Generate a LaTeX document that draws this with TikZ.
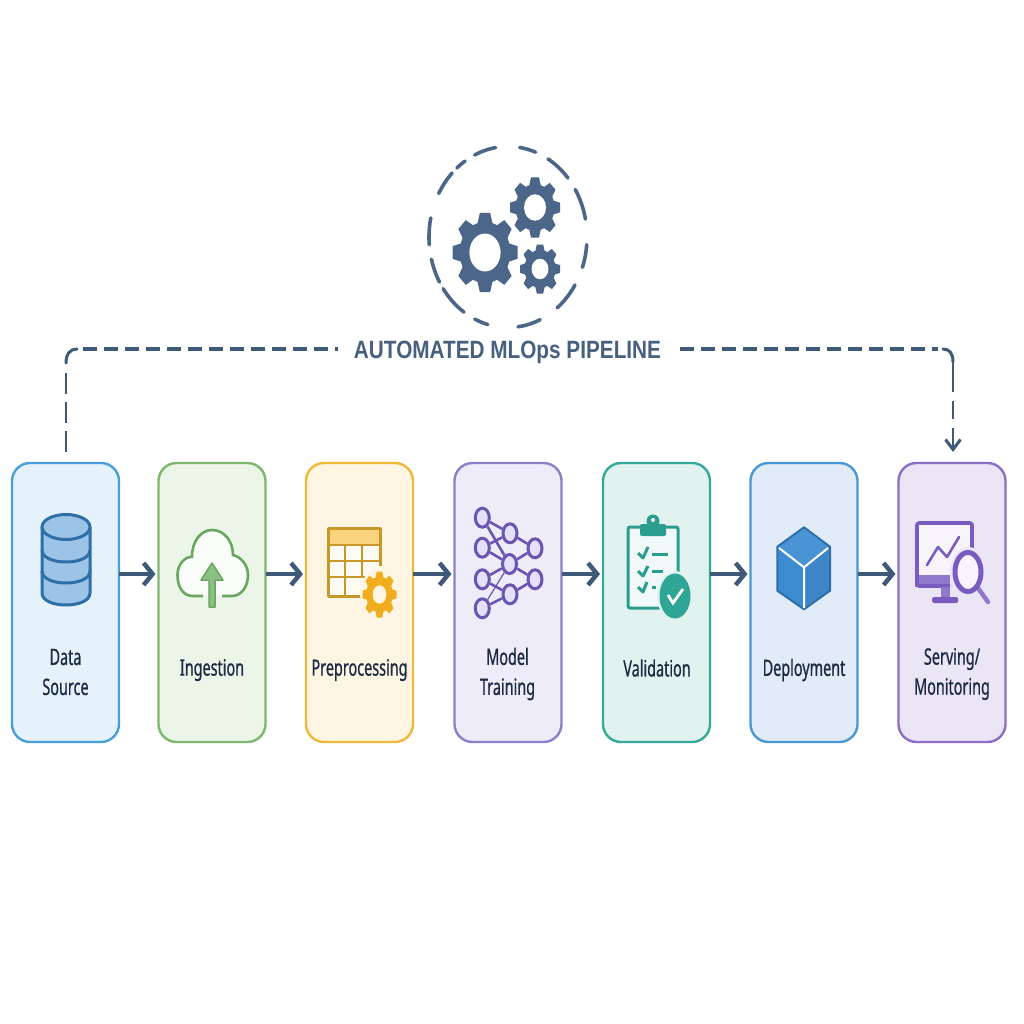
\documentclass[tikz,border=0pt]{standalone}
\usepackage{fontspec}
\setmainfont[FakeStretch=0.64,FakeBold=0.7]{Noto Sans}
\newfontfamily\titlefont[FakeStretch=0.83]{Liberation Sans}
\usetikzlibrary{arrows.meta,shapes.geometric,calc}
\definecolor{ink}{HTML}{1C2A44}
\definecolor{slate}{HTML}{4B6688}
\definecolor{titlec}{HTML}{47607F}
\definecolor{arrowc}{HTML}{3F5A78}
\definecolor{netc}{HTML}{6A56B0}
\definecolor{netf}{HTML}{E4E0F7}
\definecolor{teal1}{HTML}{2A9D8F}
\definecolor{teal2}{HTML}{2FA596}
\definecolor{amber1}{HTML}{C9962A}
\definecolor{amber2}{HTML}{F9D27D}
\definecolor{amber3}{HTML}{F0AD1E}
\definecolor{violet1}{HTML}{7A5CC0}
\definecolor{violet2}{HTML}{9078CC}
\definecolor{green1}{HTML}{6AA75E}
\definecolor{green2}{HTML}{8CC084}
\definecolor{blue1}{HTML}{2F6FA8}
\definecolor{blue2}{HTML}{9CC3E8}
\definecolor{cubeT}{HTML}{4A94D6}
\definecolor{cubeL}{HTML}{3D8BD0}
\definecolor{cubeR}{HTML}{3F86C9}
\definecolor{bgBlue}{HTML}{E6F2FB}\definecolor{edBlue}{HTML}{4A9FD8}
\definecolor{bgGreen}{HTML}{EBF5E8}\definecolor{edGreen}{HTML}{7FB76F}
\definecolor{bgAmber}{HTML}{FEF6E3}\definecolor{edAmber}{HTML}{F0B93A}
\definecolor{bgLilac}{HTML}{EEECF9}\definecolor{edLilac}{HTML}{8F7FCB}
\definecolor{bgTeal}{HTML}{E2F3EF}\definecolor{edTeal}{HTML}{35A99A}
\definecolor{bgSky}{HTML}{E1ECF8}\definecolor{edSky}{HTML}{4A97D3}
\definecolor{bgViolet}{HTML}{EBE6F6}\definecolor{edViolet}{HTML}{8A6FC4}
\tikzset{
  stage/.style 2 args={rectangle,draw=#1,fill=#2,line width=2.4pt,rounded corners=18pt,minimum width=107pt,minimum height=279pt,inner sep=0pt,outer sep=0pt},
  steplabel/.style={text=ink,font=\fontsize{22.5}{30}\selectfont,align=center,inner sep=0pt},
  flow/.style={draw=arrowc,line width=4.5pt,-{Straight Barb[length=9pt,width=22pt,line width=4.5pt]},shorten >=3pt},
  dashlink/.style={draw=arrowc,line width=3.8pt,dash pattern=on 14pt off 7pt},
  longdash/.style={draw=arrowc,line width=2.8pt,dash pattern=on 21pt off 8pt},
  solidlink/.style={draw=arrowc,line width=3pt},
  neuron/.style={ellipse,draw=netc,fill=netf,line width=3pt,minimum width=14pt,minimum height=19pt,inner sep=0pt},
  syn/.style={draw=netc,line width=2.6pt},
}
\newcommand{\gearicon}[7]{%
  \begin{scope}[shift={(#1,#2)},xscale=#3,yscale=#4]
    \foreach \a in {0,45,...,315}{
      \fill[#6,rotate=\a] (-0.24,0.7) -- (-0.16,1) -- (0.16,1) -- (0.24,0.7) -- cycle;
    }
    \fill[#6] (0,0) circle (0.78);
    \fill[#7] (0,0) circle (#5);
  \end{scope}%
}
\newcommand{\ringdash}[2]{%
  \draw[slate,line width=3.6pt,line cap=round,domain=#1:#2,samples=12,variable=\t,smooth]
    plot ({508+79*cos(\t)},{237+90.5*sin(\t)});%
}
\begin{document}
\begin{tikzpicture}[x=1pt,y=-1pt]
\useasboundingbox (0,0) rectangle (1024,1024);
\fill[white] (0,0) rectangle (1024,1024);

% stages
\node[stage={edBlue}{bgBlue}] (ds) at (65.5,602.5) {};
\node[stage={edGreen}{bgGreen}] (ing) at (212,602.5) {};
\node[stage={edAmber}{bgAmber}] (pre) at (359.5,602.5) {};
\node[stage={edLilac}{bgLilac}] (mt) at (508,602.5) {};
\node[stage={edTeal}{bgTeal}] (val) at (656.5,602.5) {};
\node[stage={edSky}{bgSky}] (dep) at (804,602.5) {};
\node[stage={edViolet}{bgViolet}] (srv) at (952,602.5) {};

% labels
\node[steplabel] (l1) at (65.5,672) {Data\\Source};
\node[steplabel] (l2) at (212,670) {Ingestion};
\node[steplabel] (l3) at (359.5,670) {Preprocessing};
\node[steplabel] (l4) at (507.5,674) {Model\\Training};
\node[steplabel] (l5) at (657,668) {Validation};
\node[steplabel] (l6) at (804,670) {Deployment};
\node[steplabel] (l7) at (952,674) {Serving/\\Monitoring};

% flow arrows
\foreach \u/\v in {ds/ing,ing/pre,pre/mt,mt/val,val/dep,dep/srv}{
  \draw[flow] ([yshift=28.5pt]\u.east) -- ([yshift=28.5pt]\v.west);
}

% title and automation link
\node[text=titlec,font=\titlefont\bfseries\fontsize{25}{30}\selectfont,inner sep=0pt] (title) at (507.5,352) {AUTOMATED MLOps PIPELINE};
\coordinate (cl) at (66,349);
\coordinate (cr) at (953,349);
\draw[longdash] ([yshift=11.5pt]ds.north -| cl) -- ([yshift=-23pt]cl);
\draw[solidlink,line cap=round] ([yshift=-14pt]cl) .. controls ([yshift=-5pt]cl) and ([xshift=4pt]cl) .. ([xshift=11pt]cl);
\coordinate (tl) at (338,349);
\coordinate (tr) at (680,349);
\draw[dashlink] ([xshift=17pt]cl) -- (tl);
\draw[dashlink] (tr) -- ([xshift=-15pt]cr);
\draw[solidlink,line cap=round] ([xshift=-10pt]cr) .. controls ([xshift=-4pt]cr) and ([yshift=-4pt]cr) .. ([yshift=-13pt]cr);
\draw[draw=arrowc,line width=2.8pt,dash pattern=on 29pt off 9pt on 18pt off 9pt on 40pt,-{Straight Barb[length=10pt,width=15pt,line width=3pt]}] ([yshift=-14pt]cr) -- ([yshift=11pt]srv.north -| cr);

% ring of dashes
\ringdash{-115}{-99}\ringdash{-81.5}{-69.5}\ringdash{-59.6}{-40.6}\ringdash{-31.7}{-11.4}
\ringdash{4.9}{19.6}\ringdash{32}{51.6}\ringdash{65.9}{82.7}\ringdash{104.8}{114.9}
\ringdash{123.8}{145.2}\ringdash{150.1}{165.8}\ringdash{175.1}{192.2}\ringdash{208.7}{225}\ringdash{229.6}{237.1}

% gears
\gearicon{485}{252.5}{32.5}{39.5}{0.48}{slate}{white}
\gearicon{535}{207.5}{25}{30}{0.44}{slate}{white}
\gearicon{540}{269}{20}{24.5}{0.42}{slate}{white}

% database
\draw[blue1,line width=3pt,fill=blue2] (42,527) -- (42,593) .. controls (42,609) and (90,609) .. (90,593) -- (90,527);
\draw[blue1,line width=3pt,fill=blue2] (66,527) ellipse (24 and 12.5);
\draw[blue1,line width=3pt] (42,550) .. controls (42,566) and (90,566) .. (90,550);
\draw[blue1,line width=3pt] (42,571) .. controls (42,587) and (90,587) .. (90,571);

% cloud upload
\fill[white,opacity=0.75]
  (193,596) .. controls (183,596) and (177.5,587) .. (177.5,575)
  .. controls (177.5,565) and (184,557) .. (192,556.7)
  .. controls (192,541) and (201,530) .. (212,530)
  .. controls (224,530) and (233,541) .. (233,555)
  .. controls (241,557) and (248,565) .. (248,575)
  .. controls (248,587) and (241,596) .. (232,596) -- cycle;
\draw[green1,line width=2.6pt]
  (203,596) -- (193,596) .. controls (183,596) and (177.5,587) .. (177.5,575)
  .. controls (177.5,565) and (184,557) .. (192,556.7)
  .. controls (192,541) and (201,530) .. (212,530)
  .. controls (224,530) and (233,541) .. (233,555)
  .. controls (241,557) and (248,565) .. (248,575)
  .. controls (248,587) and (241,596) .. (232,596) -- (222,596);
\draw[green1,fill=green2,line width=1.5pt,line join=round]
  (212,563) -- (223,580) -- (215,580) -- (215,607) -- (209,607) -- (209,580) -- (201,580) -- cycle;

% table
\fill[amber2] (328,528) rectangle (380,545);
\fill[white,opacity=0.6] (329,545) rectangle (379,595);
\draw[amber1,line width=3pt,line join=round] (380,566) -- (380,528) -- (328,528) -- (328,596) -- (361,596);
\draw[amber1,line width=2.6pt] (328,545) -- (380,545) (328,561) -- (380,561) (328,577) -- (365,577) (345,545) -- (345,596) (362,545) -- (362,577);
\fill[bgAmber] (379,594) ellipse (19 and 25.5);
\gearicon{379.5}{594.5}{17}{23}{0.4}{amber3}{bgAmber}

% neural net
\node[neuron] (a1) at (482.3,517.7) {};
\node[neuron] (a2) at (482.3,547.7) {};
\node[neuron] (a3) at (482.3,579.3) {};
\node[neuron] (a4) at (482.3,608.3) {};
\node[neuron] (b1) at (510,533.3) {};
\node[neuron] (b2) at (509.5,564) {};
\node[neuron] (b3) at (510,594.3) {};
\node[neuron] (c1) at (535,548.3) {};
\node[neuron] (c2) at (535,579.3) {};
\foreach \u/\v in {a1/b1,a1/b2,a2/b1,a2/b2,a3/b2,a3/b3,a4/b3,b1/c1,b2/c1,b2/c2,b3/c2}{
  \draw[syn] (\u) -- (\v);
}
\draw[draw=netc,line width=1.2pt] (a4) -- (b2);

% clipboard
\fill[white,opacity=0.5] (628,527) rectangle (678,608);
\draw[teal1,line width=3pt,rounded corners=2pt] (628,527) rectangle (678,608);
\fill[teal1,rounded corners=2pt] (640,524) rectangle (666,536);
\fill[teal1] (653,521) circle (6.5);
\fill[white] (653,520) circle (2);
\draw[teal1,line width=3pt,line join=round] (638,553) -- (643,558) -- (648,547);
\draw[teal1,line width=3pt,line join=round] (638,571) -- (643,576) -- (648,566);
\draw[teal1,line width=3pt,line join=round] (638,587) -- (643,592) -- (647,582);
\draw[teal1,line width=3pt] (652,554) -- (668,554);
\draw[teal1,line width=3pt] (652,571.5) -- (663,571.5);
\draw[teal1,line width=3pt] (652,587) -- (656,587);
\fill[bgTeal] (675,596) ellipse (18 and 25);
\fill[teal2] (675,596) ellipse (15.5 and 22.5);
\draw[white,line width=2.8pt] (668,595) -- (673,603) -- (683,589);

% cube
\fill[cubeT] (804,527.3) -- (830,546.7) -- (804,567.3) -- (777.3,546.7) -- cycle;
\fill[cubeL] (777.3,546.7) -- (804,567.3) -- (804,609.3) -- (777.3,590.7) -- cycle;
\fill[cubeR] (830,546.7) -- (804,567.3) -- (804,609.3) -- (830,590.7) -- cycle;
\draw[blue1,line width=2pt,line join=round] (804,527.3) -- (830,546.7) -- (830,590.7) -- (804,609.3) -- (777.3,590.7) -- (777.3,546.7) -- cycle;
\draw[white,line width=2pt] (779,548) -- (804,567.3) -- (828,548) (804,567.3) -- (804,608);

% monitor
\fill[white,opacity=0.6] (917,523) rectangle (971,578);
\fill[violet2] (915,575) rectangle (950,587);
\draw[violet1,line width=3.6pt,line join=round,rounded corners=2pt] (972,548) -- (972,523) -- (917,523) -- (917,586) -- (950,586);
\fill[violet2] (941,587) rectangle (950,598);
\fill[violet1,rounded corners=1.5pt] (932,597) rectangle (958,603);
\draw[violet1,line width=2.6pt,line join=round,line cap=round] (927,565) -- (938,547) -- (947,557) -- (959,537);
\fill[bgViolet] (968,572) ellipse (18 and 25);
\draw[violet2,line width=4.5pt,line cap=round] (978,588) -- (988,602);
\fill[white,opacity=0.6] (968,572) ellipse (13 and 19.5);
\draw[violet1,line width=5pt] (968,572) ellipse (13 and 19.5);
\end{tikzpicture}
\end{document}
